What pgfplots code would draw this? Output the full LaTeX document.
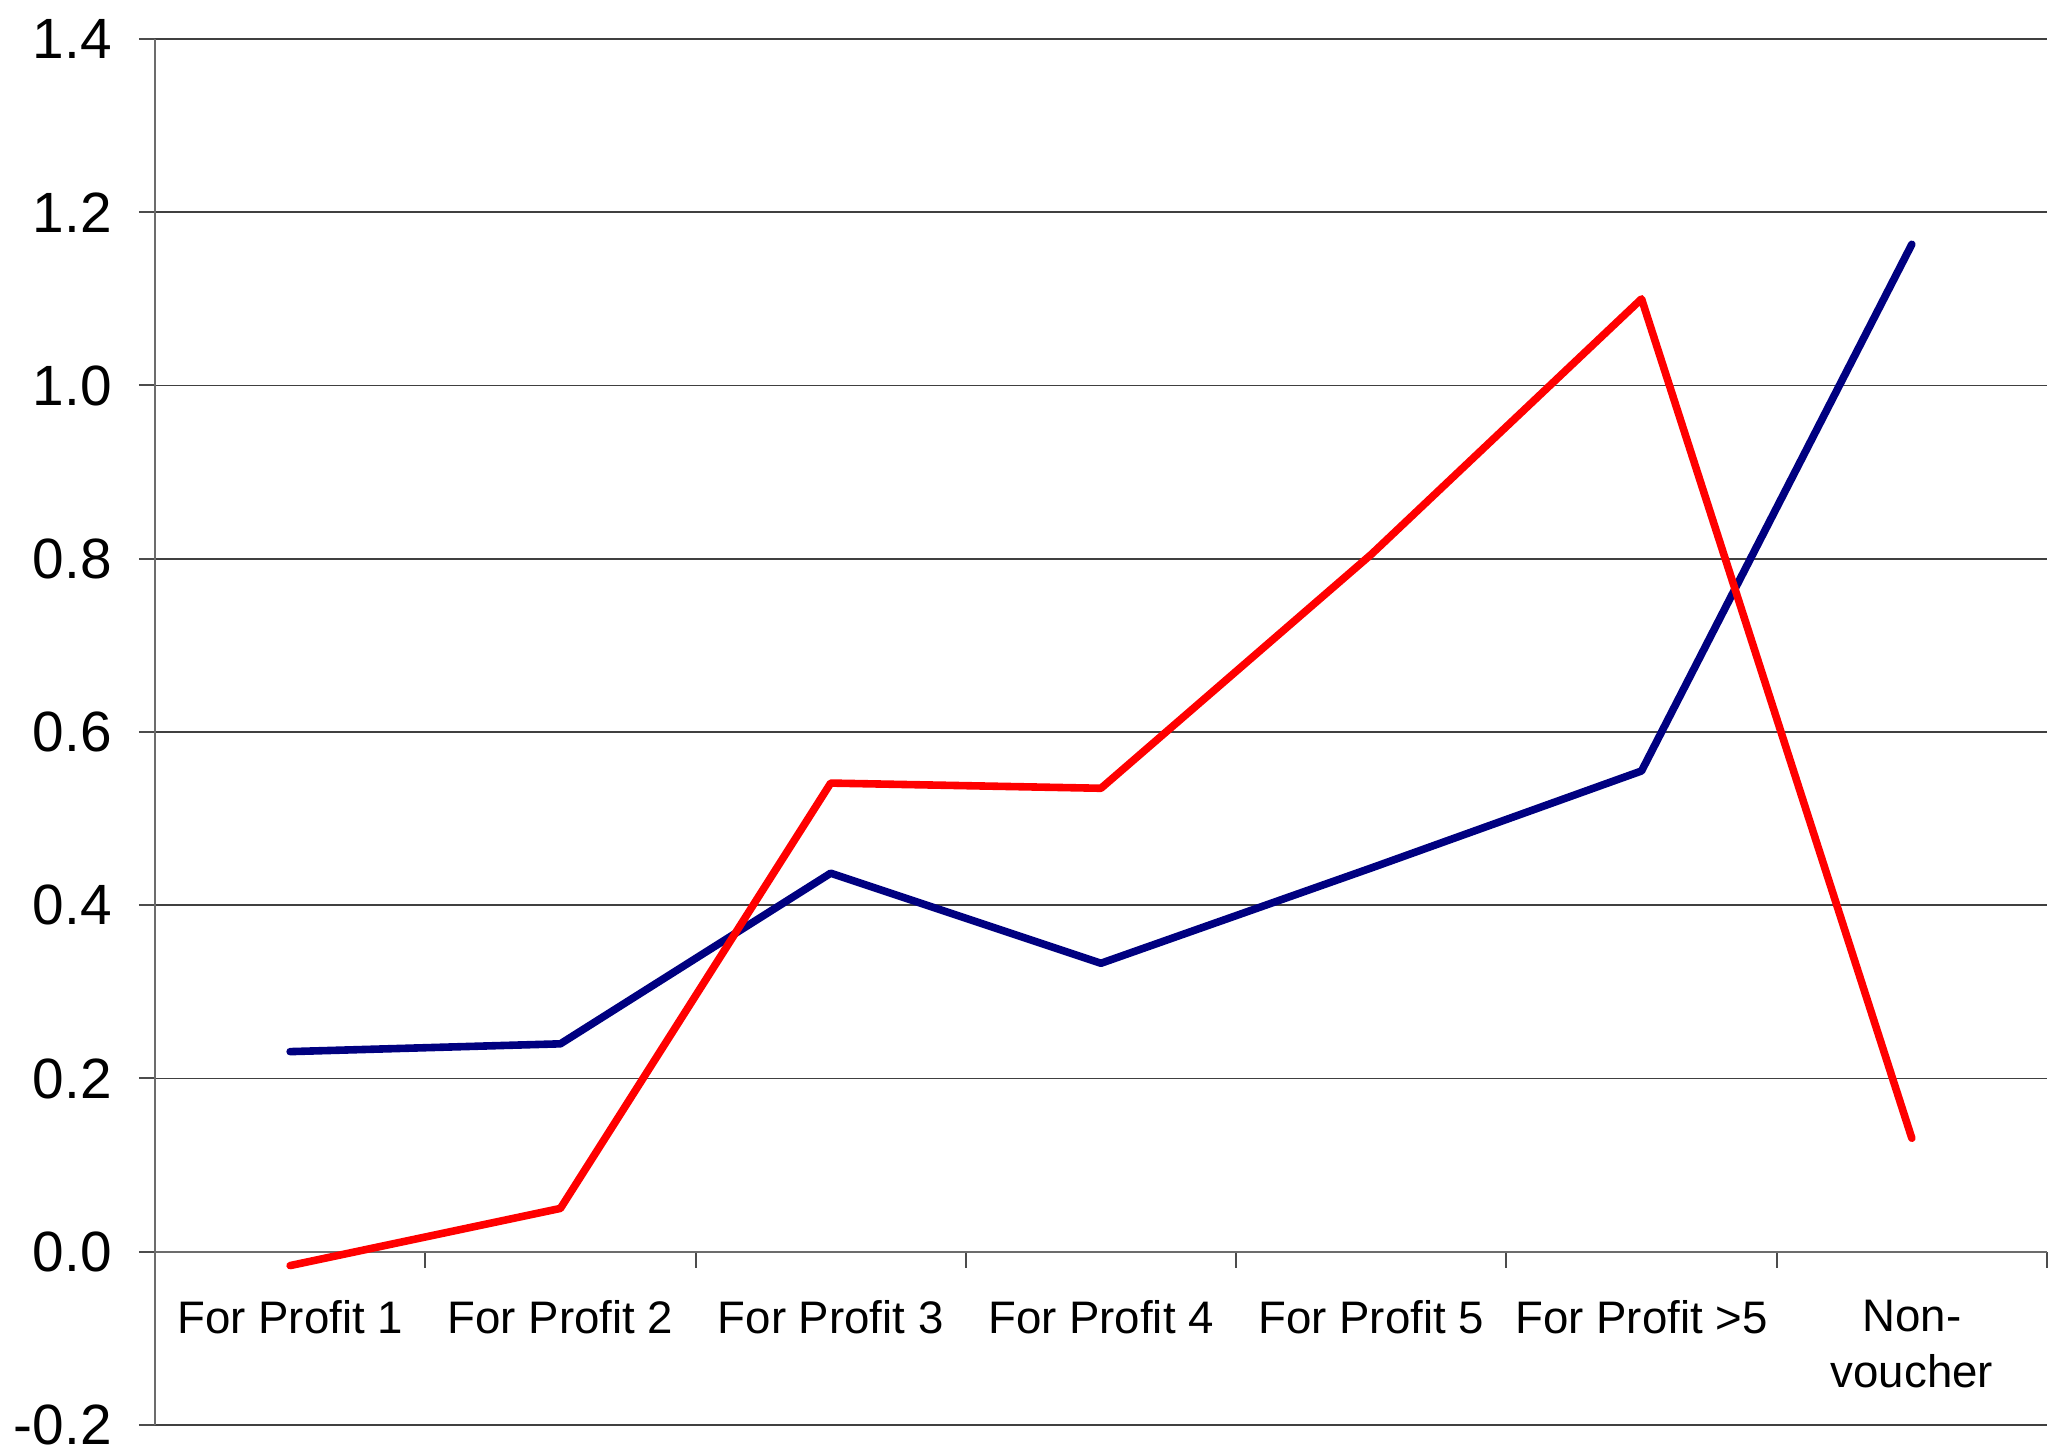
\documentclass[border=0pt]{standalone}
\usepackage{fontspec}
\setmainfont{Liberation Sans}
\usepackage{pgfplots}
\pgfplotsset{compat=1.18}
\definecolor{navyline}{RGB}{0,0,128}
\definecolor{redline}{RGB}{255,0,0}
\begin{document}
\begin{tikzpicture}
\useasboundingbox (-38.75pt,-7pt) rectangle (473.5pt,356.25pt);
\begin{axis}[
  at={(0pt,0pt)}, anchor=south west,
  scale only axis, width=473pt, height=346.5pt,
  xmin=-0.5, xmax=6.5, ymin=-0.2, ymax=1.4,
  axis x line*=middle, axis y line*=left,
  axis line style={gray!85!black, line width=0.5pt},
  /pgf/number format/assume math mode=true,
  ytick={-0.2,0,0.2,0.4,0.6,0.8,1.0,1.2,1.4},
  yticklabel style={xshift=-3.3pt, font=\fontsize{14.2}{16}\selectfont, /pgf/number format/fixed, /pgf/number format/fixed zerofill, /pgf/number format/precision=1},
  ymajorgrids,
  grid style={black!75, line width=0.45pt},
  tick align=outside,
  major tick length=4pt,
  tick style={black!70, line width=0.5pt},
  xtick={-0.5,0.5,1.5,2.5,3.5,4.5,5.5,6.5},
  xticklabels={,,,,,,,},
  extra x ticks={0,1,2,3,4,5,6},
  extra x tick labels={For Profit 1,For Profit 2,For Profit 3,For Profit 4,For Profit 5,For Profit >5,{Non-\\voucher}},
  extra x tick style={major tick length=0pt, grid=none,
    xticklabel style={anchor=north, inner sep=0pt, yshift=-12pt, align=center, font=\fontsize{11.4}{14}\selectfont}},
]
\addplot[navyline, line width=1.9pt, line cap=round, line join=round, mark=none] coordinates {
  (0,0.231) (1,0.240) (2,0.437) (3,0.333) (4,0.443) (5,0.555) (6,1.163)
};
\addplot[redline, line width=1.9pt, line cap=round, line join=round, mark=none] coordinates {
  (0,-0.016) (1,0.050) (2,0.541) (3,0.535) (4,0.805) (5,1.100) (6,0.131)
};
\end{axis}
\end{tikzpicture}
\end{document}
